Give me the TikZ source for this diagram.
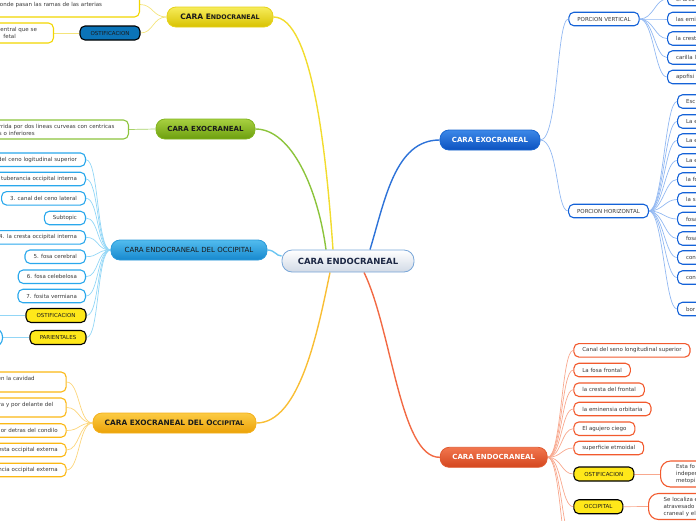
\documentclass[tikz,border=0pt]{standalone}
\usepackage{fontspec}
\setmainfont{DejaVu Sans}
\usetikzlibrary{backgrounds}
\definecolor{txtgray}{HTML}{3A3A3A}
\definecolor{darktxt}{HTML}{1A1A1A}
\definecolor{navy}{HTML}{1C2744}
% central
\definecolor{cenT}{HTML}{FFFFFF}\definecolor{cenB}{HTML}{D2DAE6}\definecolor{cenD}{HTML}{78A6D8}
% yellow
\definecolor{yelT}{HTML}{F6EC5A}\definecolor{yelB}{HTML}{D8C200}\definecolor{yelD}{HTML}{E6D21A}
\definecolor{yelC}{HTML}{F2DC2E}\definecolor{yelS}{HTML}{F4E47A}\definecolor{yelL}{HTML}{F2D600}
% green
\definecolor{grnT}{HTML}{A8D040}\definecolor{grnB}{HTML}{6C9E0E}\definecolor{grnD}{HTML}{80B41E}
\definecolor{grnC}{HTML}{8CC43C}\definecolor{grnS}{HTML}{A8D268}\definecolor{grnL}{HTML}{8CC43C}
% left blue
\definecolor{lbT}{HTML}{52BCEE}\definecolor{lbB}{HTML}{1688CE}\definecolor{lbD}{HTML}{2A9ADA}
\definecolor{lbC}{HTML}{6CC6F2}\definecolor{lbS}{HTML}{92D6F6}\definecolor{lbL}{HTML}{2AA8EC}
% orange
\definecolor{orgT}{HTML}{FCCB44}\definecolor{orgB}{HTML}{EBA208}\definecolor{orgD}{HTML}{F4B01C}
\definecolor{orgC}{HTML}{F9BE34}\definecolor{orgS}{HTML}{FCD57A}\definecolor{orgL}{HTML}{FBB814}
% right blue
\definecolor{rbT}{HTML}{3C88E8}\definecolor{rbB}{HTML}{0C52C0}\definecolor{rbD}{HTML}{1A66D0}
\definecolor{rbC}{HTML}{2C72D8}\definecolor{rbS}{HTML}{92B8F2}\definecolor{rbL}{HTML}{1462D8}
% red
\definecolor{rdT}{HTML}{F2764E}\definecolor{rdB}{HTML}{D4461E}\definecolor{rdD}{HTML}{E05A30}
\definecolor{rdC}{HTML}{F26A44}\definecolor{rdS}{HTML}{F8A88E}\definecolor{rdL}{HTML}{F25A2E}
% tags
\definecolor{tagyel}{HTML}{FFE81A}\definecolor{tagblue}{HTML}{0B74B8}
\begin{document}
\begin{tikzpicture}[x=1pt,y=-1pt,
  mainnode/.style={draw, rounded corners=9pt, minimum height=20pt, inner sep=0pt,
    line width=0.8pt, font=\bfseries\fontsize{7}{8}\selectfont},
  leaf/.style={draw, rounded corners=5pt, fill=white, line width=1.1pt,
    minimum height=13.5pt, inner xsep=8.5pt, inner ysep=0pt,
    font=\fontsize{5.5}{7}\selectfont, text=txtgray},
  tag/.style={draw=black, rounded corners=5pt, line width=1.1pt,
    minimum height=14pt, inner xsep=5pt, inner ysep=0pt,
    font=\fontsize{5.5}{7}\selectfont, text=darktxt},
  mainline/.style={line width=1.4pt},
  subline/.style={line width=0.7pt},
]
\useasboundingbox (0,0) rectangle (696,520);
\clip (0,0) rectangle (696,520);

% ---------- central ----------
\node[mainnode, draw=cenD, top color=cenT, bottom color=cenB, minimum width=132pt,
  minimum height=22pt, rounded corners=10pt, text=navy, font=\bfseries\fontsize{8.5}{9}\selectfont]
  (cen) at (348,261) {CARA ENDOCRANEAL};

% ---------- yellow (top left) ----------
\node[mainnode, draw=yelD, top color=yelT, bottom color=yelB, minimum width=106pt, text=darktxt]
  (yel) at (220,17) {\fontsize{7.5}{8}\selectfont CARA E\fontsize{6.3}{8}\selectfont NDOCRANEAL};
\node[leaf, draw=yelL, anchor=east, minimum height=25pt, text width=131pt, align=left]
  (y1) at (140,4.5) {onde pasan las ramas de las arterias};
\node[tag, fill=tagblue, minimum width=60pt] (yost) at (110,33) {OSTIFICACION};
\node[leaf, draw=yelL, anchor=east, minimum height=20pt, text width=47.5pt, align=left]
  (y2) at (54,33) {central que se\\\hspace*{6pt}fetal};

% ---------- green ----------
\node[mainnode, draw=grnD, top color=grnT, bottom color=grnB, minimum width=99pt, text=darktxt]
  (grn) at (205.5,129) {CARA EXOCRANEAL};
\node[leaf, draw=grnL, anchor=east, minimum height=19pt, text width=121pt, align=left]
  (gl) at (129,129.5) {rrida por dos lineas curveas con centricas\\s o inferiores};

% ---------- left blue ----------
\node[mainnode, draw=lbD, top color=lbT, bottom color=lbB, minimum width=156pt, text=darktxt,
  font=\fontsize{7}{8}\selectfont]
  (lb) at (189,250) {CARA ENDOCRANEAL DEL OCCIPITAL};
\node[leaf, draw=lbL, anchor=east, text width=150pt, align=right] (lb1) at (86,159.7) {del ceno logitudinal superior};
\node[leaf, draw=lbL, anchor=east, text width=150pt, align=right] (lb2) at (86,179) {tuberancia occipital interna};
\node[leaf, draw=lbL, anchor=east] (lb3) at (86,198.3) {3. canal del ceno lateral};
\node[leaf, draw=lbL, anchor=east] (lb4) at (86,218) {Subtopic};
\node[leaf, draw=lbL, anchor=east, text width=150pt, align=right] (lb5) at (86,237.3) {4. la cresta occipital interna};
\node[leaf, draw=lbL, anchor=east] (lb6) at (86,256.7) {5. fosa cerebral};
\node[leaf, draw=lbL, anchor=east] (lb7) at (86,276.7) {6. fosa celebelosa};
\node[leaf, draw=lbL, anchor=east] (lb8) at (86,296) {7. fosita vermiana};
\node[tag, fill=tagyel, minimum width=60pt] (lbost) at (56,315.5) {OSTIFICACION};
\coordinate (lbostc) at (-6,315.5);
\node[tag, fill=tagyel, minimum width=56pt] (lbpar) at (58,337.5) {PARIENTALES};
\node[leaf, draw=lbL, anchor=east, minimum height=18pt, minimum width=30pt, rounded corners=8pt] (lbparl) at (3,337.5) {};

% ---------- orange ----------
\node[mainnode, draw=orgD, top color=orgT, bottom color=orgB, minimum width=163pt, text=darktxt]
  (org) at (174.5,423) {\fontsize{7.4}{8}\selectfont CARA EXOCRANEAL DEL O\fontsize{6.4}{8}\selectfont CCIPITAL};
\node[leaf, draw=orgL, anchor=east, minimum height=20pt, text width=60pt, align=left]
  (o1) at (66.7,382) {en la cavidad\\\mbox{}};
\node[leaf, draw=orgL, anchor=east, minimum height=19pt, text width=59pt, align=left]
  (o2) at (66.7,407.5) {ra y por delante del\\\mbox{}};
\node[leaf, draw=orgL, anchor=east, text width=100pt, align=right] (o3) at (66.7,430.5) {or detras del condilo};
\node[leaf, draw=orgL, anchor=east, text width=100pt, align=right] (o4) at (66.7,450) {esta occipital externa};
\node[leaf, draw=orgL, anchor=east, text width=100pt, align=right] (o5) at (66.7,470) {ncia occipital externa};

% ---------- right blue ----------
\node[mainnode, draw=rbD, top color=rbT, bottom color=rbB, minimum width=100pt, text=white]
  (rb) at (490,140) {CARA EXOCRANEAL};
\node[leaf, draw=rbL] (pv) at (604,19) {PORCION VERTICAL};
\node[leaf, draw=rbL] (ph) at (608.5,211) {PORCION HORIZONTAL};
\foreach \n/\y/\t in {pv1/-1/el arco, pv2/19/las emi, pv3/38.5/la crest, pv4/57.5/carilla l, pv5/77/apofisi}
  \node[leaf, draw=rbL, anchor=west, text width=60pt, align=left] (\n) at (667,\y) {\t};
\foreach \n/\y/\t in {ph1/101.5/Esc, ph2/121.5/La e, ph3/140.5/La e, ph4/160.5/La e, ph5/179.5/la fo,
  ph6/199.5/la s, ph7/219/fosa, ph8/238.5/fosa, ph9/257.5/con, ph10/277.5/con, ph11/309/bor}
  \node[leaf, draw=rbL, anchor=west, text width=60pt, align=left] (\n) at (677,\y) {\t};

% ---------- red ----------
\node[mainnode, draw=rdD, top color=rdT, bottom color=rdB, minimum width=107pt, text=white]
  (rd) at (493.7,457.3) {CARA ENDOCRANEAL};
\node[leaf, draw=rdL, anchor=west] (r1) at (573.3,350.3) {Canal del seno longitudinal superior};
\node[leaf, draw=rdL, anchor=west] (r2) at (573.3,370) {La fosa frontal};
\node[leaf, draw=rdL, anchor=west] (r3) at (573.3,389.7) {la cresta del frontal};
\node[leaf, draw=rdL, anchor=west] (r4) at (573.3,409) {la eminensia orbitaria};
\node[leaf, draw=rdL, anchor=west] (r5) at (573.3,428.7) {El agujero ciego};
\node[leaf, draw=rdL, anchor=west] (r6) at (573.3,448) {superficie etmoidal};
\node[tag, fill=tagyel, anchor=west, minimum width=60pt] (rost) at (573.3,474) {OSTIFICACION};
\node[tag, fill=tagyel, anchor=west, minimum width=49pt] (rocc) at (573.3,506.7) {OCCIPITAL};
\node[leaf, draw=rdL, anchor=west, minimum height=26pt, rounded corners=10pt, inner xsep=15.5pt,
  text width=60pt, align=left] (rostl) at (660,474) {Esta fo\\indeper\\metopi};
\node[leaf, draw=rdL, anchor=west, minimum height=26pt, rounded corners=10pt, inner xsep=15pt,
  text width=60pt, align=left] (roccl) at (648,506.5) {Se localiza e\\atravesado\\craneal y el};
\coordinate (rx1) at (574,545);
\coordinate (rx2) at (574,580);

% ---------- connectors ----------
\begin{scope}[on background layer]
\draw[mainline, yelC] (yel.east) .. controls (312,17) and (326,150) .. ([xshift=-15pt]cen.north);
\draw[mainline, grnC] (grn.east) .. controls (292,129) and (318,190) .. ([xshift=-22pt]cen.north);
\draw[mainline, lbC] (lb.east) .. controls (275,250) and (276,256) .. ([yshift=5pt]cen.west);
\draw[mainline, orgC] (org.east) .. controls (300,423) and (318,330) .. ([xshift=-18pt]cen.south);
\draw[mainline, rbC] ([xshift=22pt]cen.north) .. controls (385,200) and (395,140) .. (rb.west);
\draw[mainline, rdC] ([xshift=16pt]cen.south) .. controls (392,330) and (400,458) .. (rd.west);

\draw[subline, yelS] (yel.west) .. controls +(-14,0) and +(13,0) .. (y1.east);
\draw[subline, yelS] (yel.west) .. controls +(-14,0) and +(13,0) .. (yost.east);
\draw[subline, yelS] (yost.west) -- (y2.east);
\draw[subline, grnS] (grn.west) -- (gl.east);
\foreach \n in {lb1,lb2,lb3,lb4,lb5,lb6,lb7,lb8,lbost,lbpar}
  \draw[subline, lbS] (lb.west) .. controls +(-14,0) and +(13,0) .. (\n.east);
\draw[subline, lbS] (lbost.west) -- (lbostc);
\draw[subline, lbS] (lbpar.west) -- (lbparl.east);
\foreach \n in {o1,o2,o3,o4,o5}
  \draw[subline, orgS] (org.west) .. controls +(-14,0) and +(13,0) .. (\n.east);
\draw[subline, rbS] (rb.east) .. controls +(18,0) and +(-12,0) .. (pv.west);
\draw[subline, rbS] (rb.east) .. controls +(18,0) and +(-12,0) .. (ph.west);
\foreach \n in {pv1,pv2,pv3,pv4,pv5}
  \draw[subline, rbS] (pv.east) .. controls +(14,0) and +(-12,0) .. (\n.west);
\foreach \n in {ph1,ph2,ph3,ph4,ph5,ph6,ph7,ph8,ph9,ph10,ph11}
  \draw[subline, rbS] (ph.east) .. controls +(14,0) and +(-12,0) .. (\n.west);
\foreach \n in {r1,r2,r3,r4,r5,r6,rost,rocc}
  \draw[subline, rdS] (rd.east) .. controls +(14,0) and +(-12,0) .. (\n.west);
\draw[subline, rdS] (rd.east) .. controls +(14,0) and +(-12,0) .. (rx1);
\draw[subline, rdS] (rd.east) .. controls +(14,0) and +(-12,0) .. (rx2);
\draw[subline, rdS] (rost.east) -- (rostl.west);
\draw[subline, rdS] (rocc.east) -- (roccl.west);
\end{scope}
\end{tikzpicture}
\end{document}
